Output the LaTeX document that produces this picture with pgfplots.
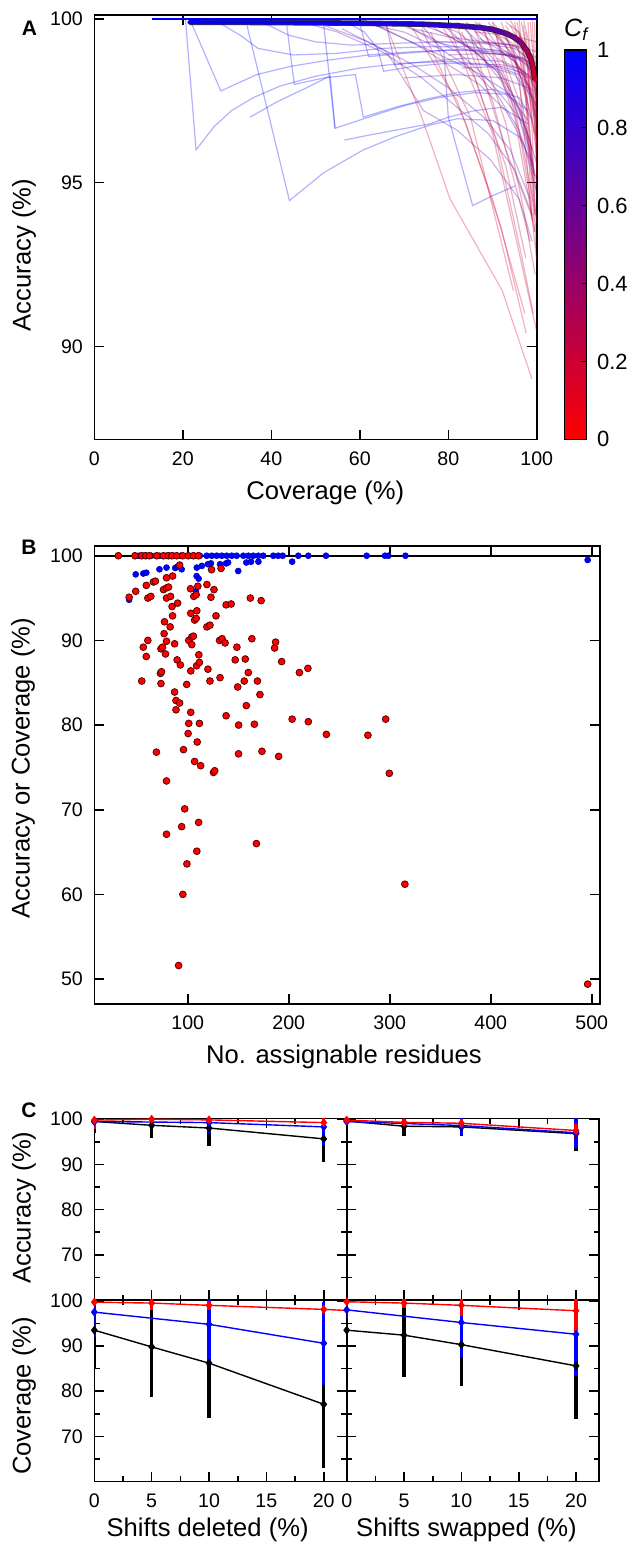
\documentclass[border=0pt]{standalone}
\usepackage{fontspec}
\setmainfont{Liberation Sans}
\usepackage{pgfplots}
\pgfplotsset{compat=1.18}

\pgfplotsset{
  panel/.style={
    scale only axis,
    anchor=north west,
    axis line style={line width=0.8pt},
    every tick/.style={black, line width=0.8pt},
    major tick length=4.8pt,
    minor tick length=2.6pt,
    tick align=inside,
    tick label style={font=\fontsize{9.8}{11}\selectfont},
    /pgf/number format/assume math mode=true,
    xticklabel shift=2.6pt,
    yticklabel shift=2.2pt,
  },
  sp/.style={line width=0.6pt, opacity=0.3},
  cpan/.style={panel, width=126.2pt, height=90.8pt,
    xmin=0, xmax=22, ymin=60, ymax=100.2,
    xtick={0,5,10,15,20}, minor xtick={2.5,7.5,12.5,17.5},
    ytick={70,80,90,100}, minor ytick={65,75,85,95}},
  ser/.style={line width=0.7pt, mark=diamond*, mark size=1.7pt,
    error bars/.cd, y dir=both, y explicit, error mark=none,
    error bar style={line width=1.6pt}},
}

\newcommand{\lab}[1]{\fontsize{12.8}{14}\selectfont #1}

\begin{document}
\begin{tikzpicture}
\useasboundingbox (0,0) rectangle (316.5pt,-774pt);

% ---------------- A ----------------
\begin{axis}[panel, at={(47.15pt,-7.5pt)},
  width=221.25pt, height=212.15pt,
  xmin=0, xmax=100, ymin=87.16, ymax=100.12,
  xtick={0,20,40,60,80,100}, ytick={90,95,100},
  colormap={rb}{rgb=(1,0,0) rgb=(0,0,1)},
  point meta min=0, point meta max=1,
  colorbar,
  colorbar style={at={(parent axis.south east)}, anchor=south west,
    xshift=5.2pt, width=11.2pt, height=194.65pt, scale only axis,
    ytick={0,0.2,0.4,0.6,0.8,1}, yticklabel pos=right, ytick pos=right,
    major tick length=3pt, tick align=inside,
    every tick/.style={black, line width=0.6pt},
    axis line style={line width=0.6pt},
    yticklabel style={font=\fontsize{11}{12}\selectfont},
    /pgf/number format/assume math mode=true,
    yticklabel shift=1.7pt},
]
% blue curves (C_f near 1)
\addplot[sp, color=blue] coordinates {(20.6,100)(23,96.0)(27,96.7)(31,97.2)(36,97.6)(42,97.95)(50,98.25)(60,98.5)(70,98.65)(80,98.7)(90,98.6)(96,98.3)(99,97.8)};
\addplot[sp, color=blue] coordinates {(21.7,99.95)(28.6,97.8)(36.7,98.3)(44.3,98.55)(53.3,98.75)(62,98.9)(72,99.0)(82,99.05)(90,99.0)(96,98.8)(99,98.4)};
\addplot[sp, color=blue] coordinates {(34.5,99.8)(44.1,94.45)(51.8,95.3)(60.8,96.0)(68,96.4)(75.9,96.76)(82,96.95)(90,96.9)(96,96.4)(99,95.6)};
\addplot[sp, color=blue] coordinates {(35.2,97.0)(41.3,97.47)(48,97.9)(53.3,98.26)(54.4,96.66)(62,97.0)(70,97.35)(78,97.6)(86,97.75)(93,97.7)(98,97.2)};
\addplot[sp, color=blue] coordinates {(43.5,99.8)(45.2,98.0)(52,98.2)(59,98.3)(60.8,97.0)(68,97.3)(75,97.55)(82,97.75)(90,97.85)(96,97.6)(99,96.9)};
\addplot[sp, color=blue] coordinates {(51.8,99.87)(54.4,96.66)};
\addplot[sp, color=blue] coordinates {(56.5,96.3)(62,96.45)(70,96.65)(76,96.8)(80,97.0)(85.5,94.3)(90,94.6)(95.1,94.9)};
\addplot[sp, color=blue!95!red] coordinates {(57,99.9)(61,99.6)(64,99.1)(65.4,98.4)(72,98.55)(80,98.65)(88,98.6)(95,98.3)(99,97.6)};
\addplot[sp, color=blue!95!red] coordinates {(28,99.9)(33,99.5)(37,99.1)(45,98.9)(55,98.95)(65,99.1)(75,99.15)(85,99.15)(93,99.0)(98,98.7)};
\addplot[sp, color=blue!90!red] coordinates {(38,99.9)(44,99.5)(50,99.3)(58,99.2)(67,99.25)(78,99.3)(88,99.25)(95,99.1)(99,98.7)};
\addplot[sp, color=blue!90!red] coordinates {(60,99.85)(62,98.85)(70,98.95)(80,99.05)(90,99.05)(97,98.8)};
\addplot[sp, color=blue!85!red] coordinates {(66,99.8)(68,98.6)(75,98.7)(84,98.8)(92,98.7)(98,98.2)};
\addplot[sp, color=blue!90!red] coordinates {(74,99.8)(79,99.0)(80,97.0)(86,97.2)(92,97.3)(98,96.8)};
\addplot[sp, color=blue!80!red] coordinates {(62,99.9)(70,99.4)(78,98.9)(86,98.4)(93,97.8)(98,96.9)};
% purple curves
\addplot[sp, color=blue!75!red] coordinates {(47,99.9)(55,99.6)(65,99.0)(74,98.2)(82,97.3)(89,96.5)(95,95.4)(99,94.0)};
\addplot[sp, color=blue!70!red] coordinates {(52,99.8)(62,99.3)(72,98.6)(80,97.9)(88,97.0)(94,96.0)(98.5,94.5)};
\addplot[sp, color=blue!65!red] coordinates {(56,99.7)(66,99.0)(74.4,97.2)(82,96.6)(89.5,95.7)(96,94.5)(99,93.2)};
\addplot[sp, color=blue!70!red] coordinates {(60,99.9)(70,99.6)(78,99.1)(85,98.5)(91,97.7)(96,96.6)(99.5,95.2)};
\addplot[sp, color=blue!60!red] coordinates {(64,99.8)(73,99.2)(80,98.6)(87,98.0)(93,97.2)(97,96.2)(99.8,94.8)};
\addplot[sp, color=blue!65!red] coordinates {(68,99.9)(75,99.5)(82,99.0)(88,98.3)(93,97.5)(97,96.8)(100,95.6)};
\addplot[sp, color=blue!70!red] coordinates {(70,99.85)(77,99.3)(80,99.2)(86,99.0)(93,98.9)(98,98.7)(100,98.0)};
\addplot[sp, color=blue!60!red] coordinates {(72,99.7)(80,99.45)(88,99.3)(94,99.2)(98,99.0)(100,98.6)};
\addplot[sp, color=blue!60!red] coordinates {(73,99.9)(80,99.5)(86,99.0)(91,98.4)(95,97.4)(98.5,96.0)};
\addplot[sp, color=blue!55!red] coordinates {(76,99.9)(82,99.6)(88,99.0)(92,98.3)(96,97.3)(99,96.0)};
\addplot[sp, color=blue!50!red] coordinates {(77,99.7)(85,99.1)(91,98.4)(95,97.6)(98.5,96.3)(100,94.5)};
\addplot[sp, color=blue!65!red] coordinates {(79,99.8)(84,99.2)(88,98.95)(94,98.9)(98,98.6)(100,98.1)};
\addplot[sp, color=blue!55!red] coordinates {(81,99.5)(87,98.9)(92,98.1)(96,97.0)(99,95.5)};
\addplot[sp, color=blue!50!red] coordinates {(82,99.9)(86,99.4)(90,98.8)(94,97.9)(97,96.8)(99.5,95.2)};
\addplot[sp, color=blue!60!red] coordinates {(84,99.7)(89,98.6)(92,98.6)(96,98.5)(99,98.2)};
\addplot[sp, color=blue!50!red] coordinates {(84,99.9)(89,99.4)(94,98.9)(97,98.3)(99.5,97.0)};
\addplot[sp, color=blue!55!red] coordinates {(85,99.8)(88,99.3)(93,99.25)(97,99.1)(100,98.8)};
\addplot[sp, color=blue!50!red] coordinates {(86,99.9)(90,99.6)(94,99.0)(97,98.0)(99.5,96.5)};
\addplot[sp, color=blue!55!red] coordinates {(87,99.4)(91,99.1)(95,98.7)(98,98.0)(100,96.9)};
\addplot[sp, color=blue!45!red] coordinates {(88,99.8)(92,99.0)(95,98.7)(98,98.2)(100,97.0)};
\addplot[sp, color=blue!45!red] coordinates {(90,99.9)(93,99.4)(96,98.8)(99,97.5)(100,96.2)};
\addplot[sp, color=blue!60!red] coordinates {(75,99.3)(85,99.3)(95,99.2)(100,99.0)};
\addplot[sp, color=blue!50!red] coordinates {(80,98.9)(90,98.95)(97,98.8)(100,98.4)};
\addplot[sp, color=blue!55!red] coordinates {(83,98.5)(92,98.55)(98,98.3)(100,97.8)};
\addplot[sp, color=blue!70!red] coordinates {(70,98.2)(82,98.3)(92,98.2)(98,97.9)(100,97.3)};
\addplot[sp, color=blue!45!red] coordinates {(86,99.6)(94,99.5)(100,99.3)};
\addplot[sp, color=blue!50!red] coordinates {(91,98.8)(94,98.6)(97,98.4)(100,98.0)};
\addplot[sp, color=blue!40!red] coordinates {(90,99.6)(94,99.3)(97,98.9)(99,98.2)(100,97.6)};
\addplot[sp, color=blue!45!red] coordinates {(94,99.8)(96.5,99.2)(98.5,98.3)(100,97.5)};
\addplot[sp, color=blue!50!red] coordinates {(50,99.98)(100,99.98)};
% red curves (C_f low)
\addplot[sp, color=blue!15!red] coordinates {(66,99.8)(74,97.0)(80.4,94.5)(92.2,91.7)(98.9,89.0)};
\addplot[sp, color=blue!20!red] coordinates {(72,99.7)(82,97.5)(90,94.5)(97.3,91.0)};
\addplot[sp, color=blue!20!red] coordinates {(76,99.6)(85,97.0)(94.7,91.7)};
\addplot[sp, color=blue!25!red] coordinates {(80,99.8)(90,96.5)(99.9,90.5)};
\addplot[sp, color=blue!25!red] coordinates {(85,99.5)(93,96.0)(98.8,94.0)};
\addplot[sp, color=blue!30!red] coordinates {(88,99.7)(95,97.0)(99.5,93.5)};
\addplot[sp, color=blue!30!red] coordinates {(90,99.8)(96,97.5)(100,95.0)};
\addplot[sp, color=blue!20!red] coordinates {(92,99.9)(97,98.0)(100,96.3)};
\addplot[sp, color=blue!15!red] coordinates {(95,99.9)(97.5,97.5)(99,93.8)};
\addplot[sp, color=blue!25!red] coordinates {(96,100)(98,97)(99.5,93.5)};
\addplot[sp, color=blue!20!red] coordinates {(97,99.8)(98.5,97.5)(100,95.8)};
\addplot[sp, color=blue!10!red] coordinates {(98,99.9)(99,98)(100,97)};
\addplot[sp, color=blue!30!red] coordinates {(78,99.9)(86,98.2)(93,95.5)(97.5,92.7)};
\addplot[sp, color=blue!35!red] coordinates {(83,99.6)(90,97.5)(95,95.0)(98.5,93.2)};
\addplot[sp, color=blue!30!red] coordinates {(87,99.9)(93,98.2)(97,96.0)(99.8,94.0)};
\addplot[sp, color=blue!35!red] coordinates {(89,99.9)(93,99.2)(96,98.0)(98.5,96.0)(100,93.8)};
\addplot[sp, color=blue!40!red] coordinates {(92,99.7)(95,98.9)(97.5,97.6)(99.3,95.3)};
\addplot[sp, color=blue!20!red] coordinates {(93,99.8)(96,99.0)(98.5,97.8)(100,96.8)};
\addplot[sp, color=blue!30!red] coordinates {(93,99.9)(96,99.6)(98,99.0)(99.5,98.0)(100,97.2)};
\addplot[sp, color=blue!15!red] coordinates {(94,99.95)(97,99.3)(99,98.5)(100,97.9)};
\addplot[sp, color=blue!25!red] coordinates {(94.5,99.2)(96,98.2)(97.5,96.0)(98.8,93.9)};
\addplot[sp, color=blue!25!red] coordinates {(91,99.5)(95,98.8)(98,98.0)(100,97.3)};
\addplot[sp, color=blue!30!red] coordinates {(95.5,99.9)(97,99.0)(98.5,96.5)(99.5,94.0)};
\addplot[sp, color=blue!20!red] coordinates {(96,99.5)(98,98.5)(99.5,96.8)(100,95.3)};
\addplot[sp, color=blue!30!red] coordinates {(96.5,99.9)(98,98.9)(99.3,97.5)(100,96.5)};
\addplot[sp, color=blue!35!red] coordinates {(97,99.95)(98,99.4)(99,98.0)(100,96.0)};
\addplot[sp, color=blue!20!red] coordinates {(97.5,99.6)(99,96.5)(99.8,93)};
\addplot[sp, color=blue!25!red] coordinates {(98.5,99.9)(99.2,98.8)(100,97.5)};
\addplot[sp, color=blue!10!red] coordinates {(99,100)(99.5,98)(100,96)};
\addplot[sp, color=blue!15!red] coordinates {(99.5,99.9)(99.8,97.5)(100,95)};
\addplot[sp, color=blue!20!red] coordinates {(74,99.7)(84,96.8)(92,93.6)(97.6,90.4)};
\addplot[sp, color=blue!15!red] coordinates {(82,99.8)(91,96.2)(96.2,93.0)(99.2,91.0)};
\addplot[sp, color=blue!25!red] coordinates {(86,99.7)(93,96.8)(97,94.2)(99.6,92.2)};
\addplot[sp, color=blue!20!red] coordinates {(90,99.9)(95,97.4)(98.2,94.8)(100,92.6)};
% opaque line at 100 and mean curve
\addplot[blue, line width=0.75pt] coordinates {(13,100)(100,100)};
\addplot[black, opacity=0.8, line width=2.8pt] coordinates {(21.5,99.9)(40,99.89)(60,99.87)(74,99.84)(82,99.79)(87,99.74)(90,99.68)(93,99.56)(95,99.43)(96.5,99.26)(97.7,99.05)(98.6,98.8)(99.2,98.5)(99.6,98.14)};
\addplot[mesh, point meta=explicit, line width=2pt, line cap=round] coordinates {
 (21.5,99.9) [0.97] (40,99.89) [0.96] (60,99.87) [0.93] (74,99.84) [0.87]
 (82,99.79) [0.8] (87,99.74) [0.74] (90,99.68) [0.68] (93,99.56) [0.6]
 (95,99.43) [0.53] (96.5,99.26) [0.46] (97.7,99.05) [0.38] (98.6,98.8) [0.3]
 (99.2,98.5) [0.22] (99.6,98.14) [0.14]};
\end{axis}

% ---------------- B ----------------
\begin{axis}[panel, at={(47.15pt,-273pt)},
  width=252.85pt, height=229pt,
  xmin=7.5, xmax=508.2, ymin=47.05, ymax=101.15,
  xtick={100,200,300,400,500}, ytick={50,60,70,80,90,100},
]
\addplot[black, line width=0.8pt] coordinates {(0,100)(520,100)};
\addplot[only marks, mark=*, mark size=1.5pt, mark options={fill=blue, draw=blue!75!black, line width=0.3pt}] coordinates {
(52,100)(57,100)(64,100)(72,100)(79,100)(86,100)(93,100)(100,100)(106,100)(112,100)
(118.8,100)(123.8,100)(128.7,100)(133.7,100)(138.6,100)(143.6,100)(148.5,100)(155,100)
(160,100)(164.9,100)(169.9,100)(174.8,100)(184.7,100)(189.6,100)(194,100)(209.5,100)
(219.4,100)(236.9,100)(277.2,100)(295.3,100)(298.6,100)(315.6,100)
(42,94.8)(48.5,97.8)(56,97.9)(59,98.0)(72,98.4)(79,98.6)(87.6,98.55)(89.6,98.7)(94,98.4)
(109,98.6)(114,98.8)(120,99.0)(123,99.1)(132,99.0)(138,99.1)(140,99.2)(150,98.2)(158,99.2)
(162.7,99.3)(170,99.3)(203.4,99.3)(108.8,97.6)(110.8,97.3)(108,95.8)(496,99.5)};
\addplot[only marks, mark=*, mark size=1.7pt, mark options={fill=red, draw=red!35!black, line width=0.4pt}] coordinates {
(31.3,100)(47.8,100)(54.5,100)(58.4,100)(62,100)(69.3,100)(75.9,100)(80.8,100)(84.2,100)
(89.1,100)(95,100)(100.6,100)(105.6,100)(110.5,100)
(92,98.9)(123.6,98.35)(133,98.5)
(42,95.1)(48.5,95.8)(59,96.5)(66,96.9)(68,97.0)(79,97.4)(85,97.6)
(60.5,95.0)(63.5,95.2)(76,96.0)(79,96.2)(81,96.3)(79,95.0)(83,95.2)
(84.5,94.0)(90,94.4)(85,92.9)
(102.8,96.1)(110,96.4)(119,96.6)(126,96.0)(106,95.2)(108.4,95.4)(123,95.1)
(162,95.0)(172.7,94.7)(138,94.2)(143,94.3)
(103,93.2)(109,93.5)(106.8,92.4)(108.4,92.6)(128,92.9)
(77,92.2)(82.6,91.6)(119,91.6)(122,91.8)(76.6,90.8)
(60.5,90.0)(56,89.2)(59,88.1)(79,89.9)(73.5,89.0)(75,89.2)(78,88.4)(87,89.6)
(101,90.0)(104,90.4)(105.6,90.5)(104,89.5)(111,88.3)(89.5,87.7)(92.7,87.1)
(108.8,87.0)(111.6,87.4)(103,86.4)(120,86.6)
(131.5,90.0)(134,90.2)(137,89.7)(148.7,89.2)(147,87.7)(157,87.8)(163.5,90.2)
(186,89.1)(187,89.8)(193,87.5)(210.6,86.2)(219,86.7)
(73,86.1)(74,86.3)(73.5,84.9)(54.5,85.2)(87,83.9)(88.4,82.9)(92,82.6)(88.4,81.8)
(99,84.8)(122,85.2)(132,85.6)(149.5,84.5)(156,85.2)(160,86.2)(169,85.2)(171.5,83.6)(158,82.3)
(103,81.5)(101,80.2)(100.4,79.0)(111.6,80.2)(109.4,78.0)(138,81.1)(150.4,80.0)(166,80.1)
(203.4,80.7)(219.4,80.4)(237.3,78.9)(278.4,78.8)(296,80.7)
(69,76.8)(95.8,77.1)(106.8,75.7)(112.8,75.2)(125.5,74.4)(126.7,74.6)(150.3,76.6)(173.5,76.9)
(190,76.3)(299.6,74.3)
(79,73.4)(97,70.1)(94,68.0)(110.8,68.5)(79,67.1)(168,66.0)(109,65.1)(99.2,63.6)(95.2,60.0)
(315,61.2)(91,51.6)(496,49.4)};
\end{axis}

% ---------------- C ----------------
\begin{axis}[cpan, at={(47.15pt,-559.15pt)}, xticklabels={}]
\addplot[black, ser] coordinates {(0,99.5) +- (0,2.5) (5,98.65) +- (0,2.75) (10,98.05) +- (0,3.9) (20,95.65) +- (0,5.05)};
\addplot[blue, ser] coordinates {(0,99.5) +- (0,1.5) (10,99.25) +- (0,2.2) (20,98.3) +- (0,3.9)};
\addplot[red, ser] coordinates {(0,99.8) +- (0,2) (5,100) +- (0,0.5) (10,99.85) +- (0,0.8) (20,99.25) +- (0,1)};
\end{axis}
\begin{axis}[cpan, at={(173.35pt,-559.15pt)}, width=126.15pt, xticklabels={}, yticklabels={}]
\addplot[black, ser] coordinates {(0,99.6) +- (0,1.5) (5,98.45) +- (0,2.2) (10,98.3) +- (0,2) (20,96.8) +- (0,3.9)};
\addplot[blue, ser] coordinates {(0,99.5) +- (0,1) (10,98.6) +- (0,2.2) (20,97.0) +- (0,3.3)};
\addplot[red, ser] coordinates {(0,99.8) +- (0,0.5) (5,99.3) +- (0,0.8) (10,99.1) +- (0,1) (20,97.5) +- (0,1.5)};
\end{axis}
\begin{axis}[cpan, at={(47.15pt,-649.95pt)}]
\addplot[black, ser] coordinates {(0,93.5) +- (0,8.4) (5,89.8) +- (0,11) (10,86.2) +- (0,12.2) (20,77.1) +- (0,14)};
\addplot[blue, ser] coordinates {(0,97.5) +- (0,5.6) (10,94.8) +- (0,8.4) (20,90.6) +- (0,9.2)};
\addplot[red, ser] coordinates {(0,99.7) +- (0,0.5) (5,99.5) +- (0,1.5) (10,99.0) +- (0,1) (20,98.1) +- (0,0.8) (25,97.5) +- (0,0)};
\end{axis}
\begin{axis}[cpan, at={(173.35pt,-649.95pt)}, width=126.15pt, yticklabels={}]
\addplot[black, ser] coordinates {(0,93.5) +- (0,8) (5,92.4) +- (0,9.2) (10,90.3) +- (0,9.1) (20,85.6) +- (0,11.8)};
\addplot[blue, ser] coordinates {(0,98.0) +- (0,2) (10,95.2) +- (0,7.7) (20,92.6) +- (0,9.2)};
\addplot[red, ser] coordinates {(0,99.8) +- (0,0.5) (5,99.5) +- (0,1) (10,99.0) +- (0,2.3) (20,97.8) +- (0,4.8)};
\end{axis}

% ---------------- labels ----------------
\node[font=\fontsize{10.5}{12}\selectfont\bfseries] at (14.75pt,-14pt) {A};
\node[font=\fontsize{10.5}{12}\selectfont\bfseries] at (14.5pt,-273.5pt) {B};
\node[font=\fontsize{10.5}{12}\selectfont\bfseries] at (14.5pt,-555pt) {C};
\node[rotate=90] at (12pt,-127.5pt) {\lab{Accuracy (\%)}};
\node at (162.65pt,-246.35pt) {\lab{Coverage (\%)}};
\node[rotate=90] at (11.5pt,-384pt) {\lab{Accuracy or Coverage (\%)}};
\node at (172pt,-528.35pt) {\lab{No. assignable residues}};
\node[rotate=90] at (12pt,-603.8pt) {\lab{Accuracy (\%)}};
\node[rotate=90] at (12pt,-698pt) {\lab{Coverage (\%)}};
\node at (103.8pt,-765pt) {\lab{Shifts deleted (\%)}};
\node at (233.25pt,-765pt) {\lab{Shifts swapped (\%)}};
\node[font=\fontsize{12.5}{14}\selectfont] at (288.5pt,-15pt) {\textit{C}\textsubscript{\textit{f}}};
\end{tikzpicture}
\end{document}
